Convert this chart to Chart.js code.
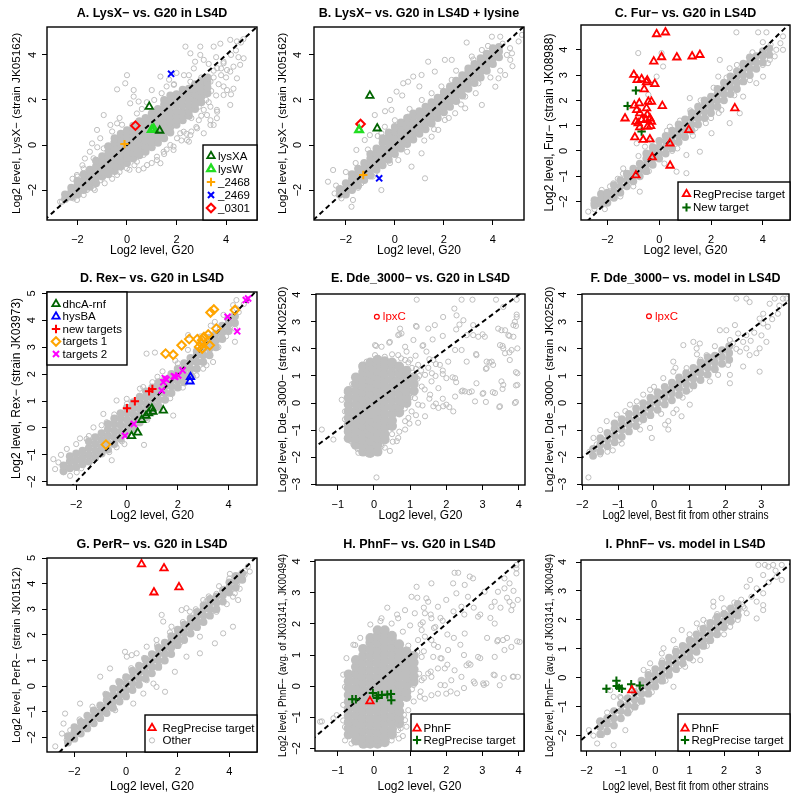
<!DOCTYPE html>
<html><head><meta charset="utf-8">
<script src="https://cdn.jsdelivr.net/npm/chart.js@4/dist/chart.umd.min.js"></script>
<style>
html,body{margin:0;padding:0;background:#fff;}
#wrap{position:relative;width:800px;height:800px;overflow:hidden;}
canvas{position:absolute;}
</style></head><body><div id="wrap"></div>
<script>
// ---------------- titles ----------------
const TITLES = ['A. LysX\u2212 vs. G20 in LS4D','B. LysX\u2212 vs. G20 in LS4D + lysine','C. Fur\u2212 vs. G20 in LS4D',
  'D. Rex\u2212 vs. G20 in LS4D','E. Dde_3000\u2212 vs. G20 in LS4D','F. Dde_3000\u2212 vs. model in LS4D',
  'G. PerR\u2212 vs. G20 in LS4D','H. PhnF\u2212 vs. G20 in LS4D','I. PhnF\u2212 vs. model in LS4D'];
const X_TITLES = ['Log2 level, G20','Log2 level, G20','Log2 level, G20','Log2 level, G20','Log2 level, G20',
  'Log2 level, Best fit from other strains','Log2 level, G20','Log2 level, G20','Log2 level, Best fit from other strains'];
const Y_TITLES = ['Log2 level, LysX\u2212 (strain JK05162)','Log2 level, LysX\u2212 (strain JK05162)','Log2 level, Fur\u2212 (strain JK08988)',
  'Log2 level, Rex\u2212 (strain JK03973)','Log2 level, Dde_3000\u2212 (strain JK02520)','Log2 level, Dde_3000\u2212 (strain JK02520)',
  'Log2 level, PerR\u2212 (strain JK01512)','Log2 level, PhnF\u2212 (avg. of JK03141, JK00494)','Log2 level, PhnF\u2212 (avg. of JK03141, JK00494)'];

// ---------------- axis ranges & ticks ----------------
const A_xRange=[-3.23,5.25], A_yRange=[-3.33,5.24], A_xTicks=[-2,0,2,4], A_yTicks=[-2,0,2,4];
const B_xRange=[-3.3,5.27],  B_yRange=[-3.33,5.24], B_xTicks=[-2,0,2,4], B_yTicks=[-2,0,2,4];
const C_xRange=[-3.02,5.05], C_yRange=[-2.73,4.98], C_xTicks=[-2,0,2,4], C_yTicks=[-2,-1,0,1,2,3,4];
const D_xRange=[-3.15,5.12], D_yRange=[-2.12,5.05], D_xTicks=[-2,0,2,4], D_yTicks=[-2,-1,0,1,2,3,4,5];
const E_xRange=[-1.6,4.17],  E_yRange=[-3.03,4.03], E_xTicks=[-1,0,1,2,3,4], E_yTicks=[-3,-2,-1,0,1,2,3,4];
const F_xRange=[-2.01,3.77], F_yRange=[-3.03,4.03], F_xTicks=[-2,-1,0,1,2,3], F_yTicks=[-3,-2,-1,0,1,2,3,4];
const G_xRange=[-3.06,5.07], G_yRange=[-2.57,5.0],  G_xTicks=[-2,0,2,4], G_yTicks=[-2,-1,0,1,2,3,4,5];
const H_xRange=[-1.63,4.15], H_yRange=[-2.08,4.05], H_xTicks=[-1,0,1,2,3,4], H_yTicks=[-2,-1,0,1,2,3,4];
const I_xRange=[-2.16,3.92], I_yRange=[-2.53,4.07], I_xTicks=[-2,-1,0,1,2,3], I_yTicks=[-2,-1,0,1,2,3,4];

// ---------------- gray genes: dense core (rows: x, then y values) ----------------
const A_core=[[-2.5,-2.4,-2.2],[-2.25,-2.3,-2.1,-1.9],[-2.0,-2.2,-2.0,-1.8,-1.6],[-1.75,-2.0,-1.8,-1.55,-1.3],[-1.5,-1.85,-1.6,-1.35,-1.1],
[-1.25,-1.7,-1.45,-1.2,-0.95,-0.7],[-1.0,-1.4,-1.2,-1.0,-0.75,-0.5],[-0.75,-1.3,-1.05,-0.8,-0.55,-0.3,-0.05],[-0.5,-1.15,-0.9,-0.65,-0.4,-0.15,0.1,0.3],
[-0.25,-0.95,-0.7,-0.45,-0.2,0.05,0.3,0.5],[0,-0.8,-0.55,-0.3,-0.05,0.2,0.45,0.65],[0.25,-0.6,-0.35,-0.1,0.15,0.4,0.65,0.85],[0.5,-0.45,-0.2,0.05,0.3,0.55,0.8,1.05],
[0.75,-0.3,-0.05,0.2,0.45,0.7,0.95,1.2],[1.0,-0.1,0.15,0.4,0.65,0.9,1.15,1.4],[1.25,0.1,0.35,0.6,0.85,1.1,1.35,1.6],[1.5,0.3,0.55,0.8,1.05,1.3,1.55,1.8,2.0],
[1.75,0.55,0.8,1.0,1.25,1.5,1.75,2.0,2.2],[2.0,0.9,1.1,1.3,1.5,1.75,2.0,2.25],[2.25,1.1,1.3,1.5,1.75,2.0,2.25,2.45],[2.5,1.3,1.5,1.75,2.0,2.25,2.5],
[2.75,1.6,1.8,2.0,2.25,2.5,2.7],[3.0,1.9,2.15,2.4,2.6,2.85],[3.25,2.3,2.55,2.8,3.0]];
const B_core=[[-2.25,-2.2,-1.95],[-2.0,-2.2,-1.95,-1.7],[-1.75,-2.0,-1.75,-1.5,-1.3],[-1.5,-1.8,-1.55,-1.3,-1.05],[-1.25,-1.55,-1.3,-1.05,-0.8],
[-1.0,-1.35,-1.1,-0.85,-0.6,-0.4],[-0.75,-1.1,-0.85,-0.6,-0.35,-0.15],[-0.5,-0.9,-0.65,-0.4,-0.15,0.1,0.3],[-0.25,-0.65,-0.4,-0.15,0.1,0.35,0.55],
[0,-0.4,-0.15,0.1,0.35,0.6,0.8],[0.25,-0.15,0.1,0.35,0.6,0.85,1.0],[0.5,0.05,0.3,0.55,0.8,1.05,1.2],[0.75,0.25,0.5,0.75,1.0,1.25,1.4],
[1.0,0.5,0.75,1.0,1.25,1.5],[1.25,0.7,0.95,1.2,1.45,1.7],[1.5,0.95,1.2,1.45,1.7,1.9],[1.75,1.2,1.45,1.7,1.95,2.1],[2.0,1.45,1.7,1.95,2.2,2.35],
[2.25,1.7,1.95,2.2,2.45,2.6],[2.5,1.95,2.2,2.45,2.7,2.85],[2.75,2.2,2.45,2.7,2.95,3.1],[3.0,2.5,2.75,3.0,3.25,3.4],[3.25,2.75,3.0,3.25,3.5,3.6],
[3.5,3.0,3.25,3.5,3.75,3.85],[3.75,3.3,3.55,3.8,4.05],[4.0,3.6,3.85,4.1,4.3],[4.25,3.9,4.15,4.35]];
const C_core=[[-2.5,-2.15,-1.95],[-2.25,-2.1,-1.9,-1.7],[-2.0,-2.05,-1.85,-1.65],[-1.75,-1.85,-1.6,-1.35],[-1.5,-1.65,-1.4,-1.15],[-1.25,-1.4,-1.15,-0.9],
[-1.0,-1.2,-0.95,-0.7],[-0.75,-1.0,-0.75,-0.5],[-0.5,-0.8,-0.55,-0.3,-0.1],[-0.25,-0.55,-0.3,-0.05,0.15],[0,-0.3,-0.1,0.15,0.4],[0.25,-0.1,0.15,0.4,0.6],
[0.5,0.1,0.35,0.6,0.8],[0.75,0.35,0.6,0.85,1.05],[1.0,0.55,0.8,1.05,1.25],[1.25,0.8,1.05,1.3,1.5],[1.5,1.05,1.3,1.55,1.75],[1.75,1.3,1.55,1.8,2.0],
[2.0,1.5,1.75,1.95,2.15],[2.25,1.75,2.0,2.25,2.45],[2.5,2.0,2.25,2.5,2.7],[2.75,2.25,2.5,2.75,2.95],[3.0,2.45,2.7,2.95,3.15],[3.25,2.75,3.0,3.25,3.45],
[3.5,3.0,3.25,3.5,3.7],[3.75,3.25,3.5,3.75],[4.0,3.5,3.75,3.95],[4.25,3.8,4.05]];
const D_core=[[-2.5,-1.6,-1.4],[-2.25,-1.5,-1.25,-1.05],[-2.0,-1.45,-1.2,-0.95],[-1.75,-1.35,-1.1,-0.85],[-1.5,-1.25,-1.0,-0.75,-0.5],[-1.25,-1.1,-0.85,-0.6,-0.35],
[-1.0,-0.95,-0.7,-0.45,-0.2],[-0.75,-0.8,-0.55,-0.3,-0.05,0.15],[-0.5,-0.6,-0.35,-0.1,0.15,0.35],[-0.25,-0.4,-0.15,0.1,0.35,0.55],[0,-0.2,0.05,0.3,0.55,0.75],
[0.25,0.0,0.25,0.5,0.75,0.95],[0.5,0.2,0.45,0.7,0.95,1.15],[0.75,0.4,0.65,0.9,1.15,1.35],[1.0,0.6,0.85,1.1,1.35,1.5],[1.25,0.8,1.05,1.3,1.55,1.7],
[1.5,1.05,1.3,1.55,1.8],[1.75,1.3,1.55,1.8,2.0],[2.0,1.5,1.75,2.0,2.2],[2.25,1.7,1.95,2.2,2.4],[2.5,1.95,2.2,2.45,2.6],[2.75,2.2,2.45,2.7,2.85],
[3.0,2.45,2.7,2.95,3.1],[3.25,2.7,2.95,3.2,3.35],[3.5,3.0,3.25,3.5],[3.75,3.3,3.55,3.8],[4.0,3.6,3.85,4.05],[4.25,3.9,4.15]];
const E_core=[[-0.7,-1.3,-1.05,-0.8,-0.55,-0.3,-0.05,0.2,0.45],[-0.5,-1.55,-1.3,-1.05,-0.8,-0.55,-0.3,-0.05,0.2,0.45,0.7,0.95],
[-0.3,-1.8,-1.6,-1.35,-1.1,-0.85,-0.6,-0.35,-0.1,0.15,0.4,0.65,0.9,1.15,1.35],[-0.1,-1.85,-1.65,-1.4,-1.15,-0.9,-0.65,-0.4,-0.15,0.1,0.35,0.6,0.85,1.1,1.35,1.5],
[0.1,-1.8,-1.55,-1.3,-1.05,-0.8,-0.55,-0.3,-0.05,0.2,0.45,0.7,0.95,1.2,1.45,1.6],[0.3,-1.35,-1.15,-0.9,-0.65,-0.4,-0.15,0.1,0.35,0.6,0.85,1.1,1.35,1.55],
[0.5,-0.85,-0.65,-0.4,-0.15,0.1,0.35,0.6,0.85,1.1,1.35,1.5],[0.7,-0.35,-0.15,0.1,0.35,0.6,0.85,1.1,1.35],[0.9,0.0,0.2,0.45,0.7,0.95,1.2],[1.1,0.45,0.7,0.95]];
const F_core=[[-1.7,-1.95,-1.7],[-1.5,-1.8,-1.55,-1.3],[-1.3,-1.6,-1.35,-1.1],[-1.1,-1.45,-1.2,-0.95,-0.75],[-0.9,-1.25,-1.0,-0.8,-0.6],[-0.7,-1.05,-0.8,-0.6,-0.4],
[-0.5,-0.85,-0.6,-0.4,-0.2],[-0.3,-0.6,-0.4,-0.2,0.0],[-0.1,-0.45,-0.2,0.0,0.2],[0.1,-0.25,0.0,0.2,0.4],[0.3,-0.05,0.2,0.4,0.6],[0.5,0.1,0.35,0.55,0.75],
[0.7,0.3,0.55,0.75,0.95],[0.9,0.45,0.7,0.9,1.1],[1.1,0.65,0.9,1.1,1.3],[1.3,0.85,1.1,1.3,1.5],[1.5,1.05,1.3,1.5,1.7],[1.7,1.25,1.5,1.75],[1.9,1.45,1.7,1.95],[2.1,1.6,1.85,2.1]];
const G_core=[[-2.25,-2.2,-1.95],[-2.0,-2.05,-1.8,-1.6],[-1.75,-1.85,-1.6,-1.4],[-1.5,-1.65,-1.4,-1.15],[-1.25,-1.45,-1.2,-0.95],[-1.0,-1.25,-1.0,-0.75],
[-0.75,-1.05,-0.8,-0.55,-0.35],[-0.5,-0.85,-0.6,-0.35,-0.1],[-0.25,-0.6,-0.35,-0.1,0.15],[0,-0.4,-0.15,0.1,0.35],[0.25,-0.15,0.1,0.35,0.6],[0.5,0.05,0.3,0.55,0.8],
[0.75,0.3,0.55,0.8,1.05],[1.0,0.5,0.75,1.0,1.25],[1.25,0.75,1.0,1.25,1.5],[1.5,1.0,1.25,1.5,1.7],[1.75,1.25,1.5,1.75,1.95],[2.0,1.6,1.8,2.0,2.2],
[2.25,1.8,2.05,2.25,2.4],[2.5,2.05,2.3,2.5,2.65],[2.75,2.3,2.5,2.75,2.9],[3.0,2.5,2.75,3.0,3.15],[3.25,2.75,3.0,3.25,3.4],[3.5,3.0,3.25,3.5],
[3.75,3.3,3.55,3.75],[4.0,3.65,3.85,4.05],[4.25,3.85,4.1,4.3],[4.5,4.15,4.4]];
const H_core=[[-0.7,-1.55,-1.35,-1.15,-0.94,-0.72,-0.5,-0.28,-0.06,0.16,0.38],[-0.5,-1.75,-1.55,-1.35,-1.14,-0.92,-0.7,-0.48,-0.26,-0.04,0.18,0.4,0.62,0.84],
[-0.3,-1.85,-1.66,-1.44,-1.22,-1.0,-0.78,-0.56,-0.34,-0.12,0.1,0.32,0.54,0.76,0.98,1.2],
[-0.1,-1.85,-1.68,-1.46,-1.24,-1.02,-0.8,-0.58,-0.36,-0.14,0.08,0.3,0.52,0.74,0.96,1.18,1.4,1.55],
[0.1,-1.85,-1.68,-1.46,-1.24,-1.02,-0.8,-0.58,-0.36,-0.14,0.08,0.3,0.52,0.74,0.96,1.18,1.4,1.62,1.8],
[0.3,-1.8,-1.63,-1.41,-1.19,-0.97,-0.75,-0.53,-0.31,-0.09,0.13,0.35,0.57,0.79,1.01,1.23,1.45,1.65,1.8],
[0.5,-1.55,-1.38,-1.16,-0.94,-0.72,-0.5,-0.28,-0.06,0.16,0.38,0.6,0.82,1.04,1.26,1.48,1.62],
[0.7,-1.2,-1.03,-0.81,-0.59,-0.37,-0.15,0.07,0.29,0.51,0.73,0.95,1.17,1.35],[0.9,-0.35,-0.18,0.04,0.26,0.48,0.7,0.92,1.12],[1.1,0.15,0.32,0.54,0.76,0.98]];
const I_core=[[-1.6,-1.95,-1.7,-1.5],[-1.4,-1.85,-1.6,-1.4],[-1.2,-1.65,-1.4,-1.15],[-1.0,-1.4,-1.15,-0.9],[-0.8,-1.2,-0.95,-0.7],[-0.6,-1.0,-0.75,-0.5],
[-0.4,-0.8,-0.55,-0.3,-0.1],[-0.2,-0.55,-0.3,-0.1,0.1],[0.0,-0.3,-0.1,0.1,0.3],[0.2,-0.1,0.1,0.3,0.5],[0.4,0.1,0.3,0.5,0.7],[0.6,0.3,0.5,0.7,0.9],
[0.8,0.5,0.7,0.9,1.1],[1.0,0.7,0.9,1.1,1.3],[1.2,0.9,1.1,1.3,1.5],[1.4,1.1,1.3,1.5,1.7],[1.6,1.3,1.5,1.7,1.9],[1.8,1.5,1.7,1.9,2.1],[2.0,1.75,1.95,2.2],
[2.2,1.95,2.15,2.4],[2.4,2.15,2.35,2.55]];

// ---------------- gray genes: scattered points [x, y] ----------------
const A_rings=[[2.36,4.37],[2.96,4.37],[2.56,4.07],[2.96,4.0],[3.1,3.78],[3.5,4.37],[3.77,4.5],[4.17,4.67],[4.44,4.6],[4.7,4.7],[4.6,4.55],[1.35,3.04],[1.0,2.44],[1.6,2.6],[0,3.1],[0.27,2.44],[-0.4,2.47],[-0.07,2.74],[0.27,2.15],[0.47,1.93],[0.13,1.85],[-0.67,0.89],[-0.4,0.96],[-0.94,1.33],[3.63,1.56],[4.04,2.44],[4.3,2.5],[4.17,3.26],[4.3,3.48],[4.04,3.33],[3.9,3.63],[4.2,2.25],[3.5,0.89],[3.63,1.19],[3.37,1.1],[3.1,0.52],[2.42,0.22],[2.15,0.52],[1.88,-0.07],[1.35,-0.81],[1.21,-0.67],[0.81,-0.89],[0.67,-1.04],[0.47,-1.11],[1.21,-0.52],[2.5,0.15],[1.88,-0.22],[3.1,1.56],[3.23,1.33],[3.37,1.7],[-2.62,-2.52],[-2.42,-2.3],[-2.02,-2.44],[-1.62,-2.0],[-1.08,-1.56],[-1.48,-1.41],[-1.21,0.67],[-1.08,0.3],[-0.81,-0.07],[-1.41,0.07],[3.5,3.0],[3.7,2.7],[3.8,3.1],[4.0,3.0],[3.6,3.9],[3.3,3.6],[4.2,4.0],[4.4,4.2],[4.5,3.9],[2.7,3.4],[2.3,3.1],[1.9,2.7],[1.7,2.9],[2.0,3.2],[0.8,1.9],[0.6,1.6],[-0.3,1.2],[-0.6,0.6],[-1.5,-0.3],[-1.8,-0.9],[-2.2,-1.5],[-1.3,-2.0],[-0.6,-1.5],[0.1,-1.1],[1.0,-0.8],[1.5,-0.4],[2.2,0.2],[2.8,0.8],[3.3,1.9],[3.0,1.3],[2.6,0.6],[3.9,2.6],[3.6,2.2],[3.2,2.0],[2.9,1.1],[2.4,0.5],[1.6,-0.2],[0.3,-0.9],[-0.3,-1.2],[-0.9,-1.7],[-2.0,-1.4],[-1.7,-0.6],[-1.2,-0.1],[-0.2,0.9],[0.4,1.4],[1.1,2.0],[1.4,2.3],[2.5,3.1],
[2.75,3.7],[3.37,2.81],[3.64,3.41],[3.9,3.7],[4.44,2.96],[4.57,3.56],[4.71,3.85],[3.9,2.22],[4.17,1.78],[3.64,1.48],[3.37,0.89],[2.83,0.74],[2.56,0.44],[2.29,0.59],[2.02,0.3],[1.75,0.0],[1.48,-0.3],[0.67,-0.44],[0.4,-0.74],[0.0,-1.04],[-0.4,-1.33],[-1.35,-1.93],[-1.75,-2.22],[-2.16,-2.37],[-2.7,-2.52],[1.89,2.67],[2.29,2.37],[2.56,2.81],[1.75,1.93],[1.48,1.63],[1.08,1.33],[0.67,1.04],[0.27,0.74],[-0.13,0.44],[-0.54,0.15],[-0.94,-0.15],[-1.35,-0.59],[-1.75,-1.04],[-2.02,-1.33],[3.0,3.0],[3.2,2.6],[2.8,2.3],[3.4,2.4],[2.9,1.7],[2.6,1.2],[3.5,3.3],[3.8,3.4]];
const B_rings=[[1.36,3.7],[2.93,4.55],[2.04,3.78],[2.32,3.78],[0.54,2.81],[0.34,2.74],[0.75,3.04],[1.09,3.11],[1.63,3.26],[0.07,2.37],[-0.2,2.0],[-0.82,1.33],[-1.02,0.44],[-1.23,0.22],[-0.55,0.52],[-1.57,-0.22],[-0.82,-0.37],[2.46,1.41],[2.87,1.63],[3.55,1.78],[4.1,2.59],[4.23,2.96],[4.5,3.11],[4.71,3.78],[4.78,4.07],[5.19,4.89],[5.05,4.6],[4.3,4.81],[3.96,4.81],[4.57,4.0],[3.55,4.22],[3.14,3.93],[1.77,0.67],[1.5,0.37],[1.09,-0.37],[1.23,-1.48],[0.68,-0.96],[0.14,-0.67],[-0.55,-2.0],[-1.37,-1.7],[-1.71,-2.44],[-2.18,-2.37],[-2.73,-1.63],[-2.46,-2.15],[-1.77,-2.74],[-2.52,-1.11],[2.04,1.11],[2.87,2.15],[3.41,2.74],[3.68,3.33],[2.32,2.89],[0.54,1.26],[-0.14,1.56],[-0.41,0.81],[-1.91,-1.85],[-0.82,-1.26],[1.9,2.6],[2.5,3.3],[3.2,3.8],[3.8,4.4],[4.4,4.5],[4.7,4.3],[4.8,3.5],[4.3,3.3],[3.9,3.0],[3.3,2.3],[2.7,1.8],[2.2,1.2],[1.6,0.7],[1.2,0.2],[0.5,-0.3],[-0.2,-0.8],[-0.9,-1.4],[-1.5,-1.9],[-2.4,-1.8],[-2.0,-1.2],[-1.6,-0.8],[-1.1,-0.2],[-0.7,0.4],[0.0,1.1],[0.6,1.6],[1.1,2.0],[1.5,2.3],[1.0,2.6],[0.3,2.2],[-0.4,1.5]];
const C_rings=[[2.98,4.69],[3.82,4.69],[4.14,4.69],[4.78,4.53],[4.68,4.26],[4.78,4.0],[4.27,3.6],[4.2,3.47],[3.5,3.47],[3.24,3.21],[2.34,3.6],[2.28,2.94],[2.72,3.27],[1.18,2.09],[-0.81,3.87],[0.09,3.87],[0.15,3.34],[-0.17,2.68],[-0.1,2.94],[-0.42,2.22],[-0.87,0.3],[-0.55,0.17],[1.05,-0.16],[1.57,-0.03],[2.02,0.7],[2.72,1.1],[3.11,1.49],[2.4,1.62],[1.05,-0.88],[0.67,-0.82],[-0.75,-1.61],[-1.77,-1.28],[-2.22,-1.54],[-2.35,-1.94],[-2.74,-2.4],[-1.39,-0.69],[-1.13,-0.88],[-2.54,-2.07],[-2.03,-1.81],[3.24,2.15],[3.75,2.68],[4.01,2.94],[1.7,1.62],[0.8,0.7],[0.41,0.96],[1.95,2.02],[4.52,4.0],[4.46,3.74],[4.3,4.2],[4.0,4.3],[3.6,3.9],[3.0,3.4],[2.6,2.9],[2.1,2.5],[1.6,2.0],[1.2,1.6],[0.8,1.2],[0.3,0.8],[-0.3,0.4],[-0.8,-0.2],[-1.4,-0.9],[-1.9,-1.4],[-2.5,-2.3],[-2.1,-2.3],[-1.5,-1.8],[-1.0,-1.4],[-0.4,-0.8],[0.2,-0.5],[0.7,0.1],[1.3,0.6],[1.8,1.1],[2.3,1.5],[2.9,2.2],[3.5,2.8],[4.0,3.4],[3.4,3.1],[2.0,1.3],[1.4,0.9],[0.5,0.0],[-0.5,-0.6],[-1.6,-1.1]];
const D_rings=[[2.41,3.45],[0.77,2.76],[1.1,2.8],[-0.41,1.02],[-1.85,-0.39],[0.67,-0.63],[1.82,0.46],[3.46,3.94],[4.31,4.75],[4.25,3.2],[4.25,3.69],[3.39,3.26],[3.66,3.69],[4.18,4.19],[4.31,4.44],[4.18,4.56],[3.39,2.45],[3.13,2.33],[2.74,1.95],[2.35,1.95],[0.51,1.46],[0.64,1.52],[-0.01,1.08],[0.12,0.71],[-2.37,-0.78],[-2.83,-1.53],[-2.7,-1.28],[-2.5,-1.65],[-1.98,-1.65],[-2.9,-1.16],[-2.24,-1.78],[-0.8,0.21],[-0.93,0.52],[-1.32,0.02],[-1.59,-0.41],[-1.06,-0.91],[-0.41,-0.72],[1.04,1.08],[4.6,4.6],[4.4,4.3],[3.9,3.4],[3.6,3.0],[3.0,2.2],[2.6,1.9],[2.2,1.5],[1.7,1.1],[1.3,0.7],[0.8,0.3],[0.3,-0.1],[-0.2,-0.5],[-0.7,-0.9],[-1.3,-1.2],[-1.8,-1.5],[-2.2,-1.3],[-2.6,-1.0],[-2.0,-0.6],[-1.5,-0.3],[-1.0,0.1],[-0.5,0.5],[0.0,0.9],[0.5,1.2],[1.0,1.7],[1.4,2.1],[1.9,2.5],[2.4,2.9],[2.9,3.4],[3.3,3.8],[3.8,4.2],[2.0,2.4],[1.2,1.9],[-0.6,-1.2],[-0.1,-0.6]];
const E_rings=[[1.18,3.82],[2.42,3.82],[2.72,3.82],[3.37,3.82],[3.94,3.82],[3.94,3.27],[3.94,3.18],[3.57,3.55],[2.22,3.49],[2.28,3.24],[1.91,3.18],[2.47,3.06],[2.74,2.88],[1.68,2.88],[1.5,2.75],[1.18,2.82],[0.72,2.75],[0.76,2.57],[0.67,2.51],[0.03,2.14],[0.44,2.26],[0.21,2.08],[0.86,2.08],[1.09,2.33],[2.74,2.51],[2.88,2.45],[3.43,2.75],[3.52,2.69],[3.62,2.69],[3.71,2.51],[3.85,2.45],[3.48,2.14],[3.57,2.02],[3.62,1.84],[3.75,1.59],[3.8,1.96],[3.96,2.02],[3.85,2.88],[3.89,3.0],[3.06,2.45],[2.56,2.51],[2.24,1.96],[2.42,1.96],[2.56,1.53],[2.83,1.77],[3.11,1.53],[3.25,1.53],[3.29,1.41],[3.11,1.29],[2.83,0.73],[3.52,0.8],[3.57,0.67],[3.96,0.67],[3.96,1.1],[3.02,0.37],[3.34,0.37],[2.79,0.06],[3.48,-0.12],[3.89,0.0],[2.0,0.92],[2.24,0.92],[2.42,0.43],[2.51,0.43],[2.7,0.43],[2.24,0.24],[2.0,-0.06],[1.78,-0.18],[1.64,-0.12],[1.41,-0.49],[1.22,-0.73],[0.86,-0.98],[0.67,-1.29],[0.63,-1.41],[0.21,-1.59],[0.44,-1.77],[0.07,-2.75],[2.19,-0.31],[1.91,-0.12],[1.82,1.41],[1.64,1.59],[2.05,1.53],[1.45,1.9],[1.36,2.14],[1.22,1.41],[1.41,1.04],[1.59,0.8],[1.32,0.61],[1.78,0.55],[1.55,0.31],[1.13,0.18],[1.22,-0.06],[1.04,-0.31],[0.95,-0.55],[0.86,-0.67],[-1.44,-0.98],[-1.12,-1.35],[-0.89,0.12],[-0.8,-0.31],[-0.75,-0.92],[-0.66,-1.16],[-0.57,-1.53],[-0.52,0.92],[-0.34,1.41],[-0.2,1.53],[0.03,1.77],[0.3,1.71],[0.67,1.77],[0.86,1.59],[-0.34,-1.77],[-0.16,-1.9],[-0.43,-1.84],[1.3,1.2],[1.5,1.3],[1.7,1.0],[1.9,1.2],[1.2,0.9],[1.0,1.6],[1.15,1.75],[0.9,1.9],[1.4,0.5],[1.6,1.1],
[1.16,1.26],[1.53,1.62],[1.71,1.44],[1.9,1.07],[2.17,0.95],[2.27,0.77],[2.45,0.46],[2.63,0.4],[3.0,0.34],[3.28,0.4],[3.55,0.52],[3.92,0.65],[1.9,0.16],[2.08,-0.15],[1.71,-0.02],[1.53,0.16],[1.34,-0.09],[1.16,-0.45],[0.98,-0.76],[0.7,-1.06],[0.52,-1.43],[1.34,2.11],[1.62,2.35],[1.9,2.48],[2.27,2.72],[2.36,2.9],[3.0,2.54],[3.19,1.5],[3.09,1.26],[3.55,2.11],[3.74,2.48],[3.92,2.85],[3.92,1.14],[3.74,1.87],[3.92,0.04],[3.46,-0.15],[3.09,0.04],[2.82,1.81],[0.06,2.11],[0.42,2.23],[0.7,2.54],[1.16,2.85],[1.05,1.3],[0.95,1.5],[1.25,1.0],[1.0,0.2],[0.85,-0.2],[0.75,1.65],[0.5,1.8],[-0.6,0.7],[-0.75,0.4],[-0.8,-0.6],[-0.65,-1.4],[-0.45,-1.7],[0.3,-1.65],[0.5,-1.15]];
const F_rings=[[2.3,3.86],[2.58,3.86],[2.67,3.73],[3.37,3.86],[3.6,3.86],[3.7,3.86],[3.23,3.67],[3.05,3.3],[2.95,3.12],[3.05,2.94],[3.18,2.82],[3.46,3.3],[3.14,2.26],[2.95,2.02],[2.86,1.84],[2.67,1.77],[2.58,2.02],[2.49,2.26],[2.26,2.88],[2.35,2.57],[2.58,2.51],[2.02,2.69],[1.84,2.69],[2.12,2.33],[2.95,1.16],[2.49,1.35],[2.07,1.41],[2.12,1.04],[2.12,0.73],[1.79,1.04],[1.56,0.8],[1.37,1.04],[1.56,1.41],[1.47,1.77],[1.1,2.26],[1.28,2.2],[1.19,2.02],[0.82,2.14],[0.54,1.53],[0.63,-0.24],[1.0,-0.06],[0.54,-0.37],[0.31,-0.8],[0.4,-0.67],[-0.06,-1.29],[-0.11,-0.92],[0.4,-0.98],[-0.39,-0.98],[-0.67,-0.8],[-0.97,-1.38],[-1.15,-1.75],[-1.5,-1.9],[-1.83,-2.75],[0.77,-0.49],[-1.32,-0.67],[-1.04,-0.43],[-0.67,-0.06],[-0.48,0.06],[-0.3,0.31],[-0.11,0.49],[0.26,0.92],[0.54,1.16],[0.91,1.29],[-1.69,-1.29],[-1.6,-1.53],[2.3,2.0],[2.0,1.8],[1.8,1.5],[2.4,1.9],[2.7,2.3],[2.8,2.6],[3.0,2.5],[3.3,3.1],[3.5,3.6],[2.2,2.2],[1.7,2.1],[1.3,1.6],[1.0,0.5],[0.8,0.2],[0.2,-0.4],[-0.4,-0.7],[-0.9,-1.5],[-1.3,-1.8],[-1.8,-1.8],[-1.5,-1.0],[-0.8,-0.3],[0.0,0.6],[0.6,1.3],[1.2,1.8]];
const G_rings=[[4.02,4.38],[4.59,4.34],[4.72,4.67],[4.79,4.47],[4.21,3.62],[4.34,3.36],[4.14,3.49],[2.99,3.36],[3.11,3.3],[2.15,2.97],[2.34,3.04],[2.47,2.91],[2.73,2.71],[1.38,2.78],[1.44,2.52],[1.76,2.32],[1.18,1.8],[0.8,1.54],[0.41,1.28],[-0.04,1.34],[0.03,1.15],[0.22,1.21],[-0.62,0.69],[-1.0,0.37],[-1.78,-0.68],[-2.36,-1.07],[-2.42,-1.46],[-2.74,-2.35],[-2.48,-1.85],[-2.16,-1.72],[-0.88,-0.94],[-0.42,-0.94],[0.28,-0.68],[0.67,-0.29],[1.18,-0.03],[1.51,-0.22],[1.89,0.56],[2.34,1.15],[2.86,1.28],[3.44,1.67],[3.76,2.06],[4.14,2.32],[1.63,1.41],[0.8,0.23],[1.06,0.1],[2.86,1.93],[4.5,4.2],[4.3,4.0],[3.8,3.8],[3.5,3.6],[3.3,2.9],[2.9,2.5],[2.5,2.1],[2.1,1.7],[1.7,1.3],[1.3,0.9],[0.9,0.5],[0.5,0.1],[0.0,-0.3],[-0.5,-0.7],[-1.0,-1.1],[-1.5,-1.5],[-2.0,-1.9],[-2.3,-2.1],[-1.8,-1.3],[-1.3,-0.8],[-0.8,-0.3],[-0.3,0.2],[0.2,0.7],[0.7,1.1],[1.2,1.6],[1.7,2.1],[2.2,2.5],[2.7,3.0],[3.2,3.5],[3.6,3.9],[4.0,4.2],[4.6,4.5],[3.9,3.2],[3.5,2.9],[4.4,3.8]];
const H_rings=[[2.23,3.64],[2.33,3.64],[2.51,3.25],[2.65,3.52],[2.74,3.46],[1.18,3.19],[1.59,3.3],[2.19,3.3],[2.28,2.98],[2.6,2.87],[3.06,3.03],[3.43,3.03],[3.61,3.46],[3.75,3.3],[3.94,3.62],[3.94,3.89],[3.94,3.78],[3.61,3.14],[3.75,2.71],[3.84,2.6],[3.98,2.77],[3.8,2.44],[3.34,2.71],[3.25,2.55],[2.88,2.23],[2.42,2.55],[2.0,2.77],[1.77,2.55],[1.5,2.71],[1.41,2.34],[1.59,2.18],[1.13,2.34],[0.86,2.44],[0.67,2.18],[0.49,2.01],[1.04,2.87],[1.45,2.82],[0.21,2.18],[-0.06,1.59],[-0.52,1.32],[-0.48,0.73],[-0.75,0.41],[2.51,1.69],[3.34,2.01],[3.43,1.48],[3.34,0.94],[3.61,1.16],[3.57,1.48],[3.8,1.26],[4.03,1.42],[3.98,0.3],[3.84,0.3],[3.48,0.03],[3.34,0.35],[3.11,0.09],[3.02,0.09],[2.79,0.09],[2.88,0.94],[2.62,0.73],[2.56,0.67],[2.42,0.3],[2.23,0.51],[2.14,0.19],[1.96,0.03],[2.0,-0.24],[1.77,-0.24],[1.59,-0.29],[1.41,-0.4],[1.27,-0.34],[1.96,0.57],[1.77,0.57],[1.5,0.41],[1.59,0.3],[1.32,0.19],[1.64,0.94],[1.87,0.89],[1.32,0.94],[2.05,1.16],[1.77,1.26],[1.59,1.48],[1.41,1.59],[1.32,1.8],[1.22,1.48],[1.13,0.09],[0.95,-0.34],[-1.44,-1.13],[-1.03,-0.93],[-0.8,-1.31],[-0.8,-1.74],[-0.62,-1.84],[-0.25,-1.9],[0.21,-1.84],[0.49,-1.74],[0.67,-1.41],[0.86,-1.09],[0.95,-0.77],[-0.8,-0.02],[1.2,1.1],[1.0,1.95],[0.8,1.75],[1.35,2.05],[1.7,1.9],[1.9,2.1],[2.2,2.4],[2.5,2.3],[1.1,0.6],[1.25,0.4],[1.05,-0.1],
[1.2,2.84],[1.38,2.52],[1.57,2.3],[1.29,1.98],[1.66,1.87],[1.84,2.19],[2.03,1.66],[2.21,1.55],[2.39,1.33],[1.66,1.33],[1.38,1.12],[1.84,0.9],[2.03,0.69],[1.57,0.47],[1.38,0.26],[1.84,0.04],[2.12,-0.17],[2.3,-0.23],[1.1,0.04],[1.29,-0.17],[1.1,-0.49],[0.83,-0.92],[0.74,-1.35],[0.69,-1.68],[0.64,2.3],[0.37,2.52],[0.18,2.09],[-0.1,1.98],[-0.38,1.55],[-0.57,1.33],[-0.76,0.9],[-0.85,0.37],[-1.49,-1.14],[-1.12,-1.03],[2.76,2.52],[2.94,2.3],[3.22,2.19],[3.5,2.52],[3.68,2.84],[3.86,3.06],[3.13,1.55],[3.41,1.44],[3.68,1.55],[3.96,1.44],[2.94,0.9],[3.31,0.37],[3.59,0.26],[3.86,0.31],[2.76,0.15],[3.04,0.04],[2.49,-0.06],[2.67,0.69],[2.49,1.0],[0.95,1.3],[1.0,0.9],[0.9,-1.3],[0.8,-1.6],[-0.85,-0.6],[-0.85,-1.1]];
const I_rings=[[3.0,3.9],[3.19,3.9],[3.29,3.84],[3.43,3.9],[3.68,3.9],[3.53,3.49],[3.68,3.38],[3.14,3.55],[2.76,3.38],[2.66,3.15],[2.95,3.09],[3.14,2.92],[2.95,2.63],[3.14,2.51],[3.14,2.34],[2.95,2.05],[2.66,2.23],[2.42,2.17],[2.56,2.46],[2.18,2.23],[2.18,1.76],[1.93,2.75],[1.69,2.63],[1.69,2.46],[2.27,2.0],[1.89,1.76],[1.6,1.48],[1.31,0.61],[1.02,0.73],[1.26,1.19],[0.97,1.07],[0.63,0.27],[0.87,0.38],[0.53,-0.31],[-0.34,-0.43],[-0.53,-0.89],[-0.73,-1.12],[-0.87,-1.81],[-1.21,-2.33],[-1.55,-1.98],[-1.64,-1.52],[-1.93,-1.81],[-1.69,-2.27],[0.24,1.02],[0.19,0.84],[0.53,1.3],[0.77,1.65],[-0.15,0.5],[-0.34,0.27],[-1.31,-0.43],[-1.21,-0.66],[-1.02,-0.66],[1.74,2.05],[1.21,1.88],[1.4,2.0],[2.5,2.7],[2.8,2.8],[3.3,3.3],[3.5,3.7],[2.6,2.4],[2.3,2.6],[2.0,2.4],[1.8,2.2],[1.5,1.9],[2.0,1.5],[2.4,2.0],[1.5,1.1],[1.1,0.6],[0.7,0.4],[0.3,-0.1],[-0.1,-0.5],[-0.5,-0.6],[-0.9,-1.1],[-1.3,-1.6],[-1.8,-2.0],[-1.4,-1.2],[-1.0,-0.7],[-0.6,-0.3],[-0.2,0.2],[0.2,0.6],[0.6,1.0],[1.0,1.5],[1.3,1.7]];

// ---------------- highlighted genes ----------------
const A_lysXA=[[0.9,1.7],[1.32,0.64]], A_lysW=[[1.0,0.68],[1.08,0.72]], A_2468=[[-0.1,0.04]], A_2469=[[1.78,3.16]], A_0301=[[0.34,0.86]];
const B_lysXA=[[-1.02,2.19],[-0.72,0.74]], B_lysW=[[-1.46,0.67]], B_2468=[[-1.29,-1.33]], B_2469=[[-0.64,-1.48]], B_0301=[[-1.4,0.93]];
const C_reg=[[-0.1,4.62],[0.24,4.69],[-0.21,3.54],[0.09,3.71],[0.68,3.7],[1.27,3.74],[1.57,3.8],[-0.98,3.01],[-0.85,2.81],[-0.68,2.84],[-0.46,2.79],[-0.49,2.72],[-0.17,2.65],[-0.58,2.44],[-0.96,1.8],[-0.77,1.89],[-0.87,1.62],[-0.75,1.49],[-1.32,1.29],[-0.9,1.16],[-0.81,1.1],[-0.42,1.95],[-0.3,1.95],[-0.49,1.69],[-0.46,1.43],[-0.36,1.29],[-0.51,1.23],[-0.3,1.16],[-0.45,0.96],[-0.33,0.99],[0.12,1.78],[-0.94,0.54],[-0.62,0.44],[-0.36,0.46],[0.41,0.3],[1.14,0.83],[-0.27,-0.25],[0.42,-0.58],[-0.9,-0.96],[2.92,1.69],[-0.68,1.23],[-0.75,0.94]];
const C_new=[[-0.9,2.39],[-1.22,1.78],[-0.68,0.77]];
const D_dhcA=[[0.18,-0.3],[0.42,-0.17],[0.58,0.3],[0.75,0.45],[0.85,0.55],[0.98,0.72],[1.02,0.6],[1.43,0.65]];
const D_hysBA=[[2.5,1.89],[2.48,1.73]];
const D_new=[[0.0,0.73],[0.31,0.99],[0.87,1.36],[1.0,1.45]];
const D_t1=[[-0.83,-0.62],[1.52,2.76],[1.82,2.72],[2.15,3.07],[2.45,3.3],[2.77,3.3],[2.84,3.01],[2.96,3.26],[3.03,3.38],[3.2,3.47],[3.26,3.07],[2.96,2.95],[3.29,4.29],[3.42,4.4],[3.52,3.69],[4.25,4.38],[2.93,3.13]];
const D_t2=[[-0.08,-0.29],[0.27,0.15],[1.43,1.7],[1.49,1.85],[1.85,1.92],[2.02,1.95],[2.19,2.14],[1.37,1.39],[3.96,4.13],[4.34,3.59],[4.68,4.75],[4.77,4.81],[1.55,1.8],[1.9,1.9]];
const E_lpxC=[[0.08,3.19]], F_lpxC=[[-0.14,3.21]];
const G_reg=[[0.6,4.76],[1.47,4.6],[1.08,3.66],[2.05,3.86]];
const H_phnF=[[-0.11,-0.48]], H_reg=[[-0.6,-0.42],[-0.5,-0.42],[-0.03,-0.22],[0.08,-0.38],[0.12,-0.3],[0.22,-0.28],[0.37,-0.27],[0.47,-0.25],[0.48,-0.45]];
const I_phnF=[[-0.68,-0.43]], I_reg=[[-1.42,-0.38],[-1.13,-0.1],[-1.12,-0.28],[-1.05,-0.35],[-0.97,-0.38],[-0.7,-0.22],[-0.45,-0.27]];

// ---------------- styling ----------------
const FONT="'Liberation Sans', Arial, Helvetica, sans-serif";
const GRAY='#bebebe', DKGREEN='#006400', GREEN='#22dd22', ORANGE='#ffa500', BLUE='#0000ff', RED='#ff0000', MAGENTA='#ff00ff';
const STYLES={
  tri:{pointStyle:'triangle',radius:4.3,borderWidth:1.8},
  plus:{pointStyle:'cross',radius:4.2,borderWidth:2},
  x:{pointStyle:'crossRot',radius:4.3,borderWidth:2},
  diamond:{pointStyle:'rectRot',radius:4.3,borderWidth:2},
  circ:{pointStyle:'circle',radius:2.4,borderWidth:1.2}
};
Chart.defaults.font.family=FONT;

const X0=[0,266,533], Y0=[0,266,532], CW=267, CH=268;
const ROW_TITLE_PAD=[6.5,5.5,5.5], ROW_XTITLE_C=[251,250,255];

const PANELS=[
 {col:0,row:0,box:{L:47,R:257,T:27,B:220},yLabX:33,xs:12,ys:11.7,xRange:A_xRange,yRange:A_yRange,xTicks:A_xTicks,yTicks:A_yTicks,core:A_core,coreR:4,rings:A_rings,
  series:[{label:'lysXA',data:A_lysXA,style:'tri',color:DKGREEN},{label:'lysW',data:A_lysW,style:'tri',color:GREEN,bw:2.4},{label:'_2468',data:A_2468,style:'plus',color:ORANGE},
          {label:'_2469',data:A_2469,style:'x',color:BLUE},{label:'_0301',data:A_0301,style:'diamond',color:RED}],
  legend:{anchor:'br',w:54,h:75,first:11,step:13,mx:8,tx:15,items:['lysXA','lysW','_2468','_2469','_0301']}},
 {col:1,row:0,box:{L:48,R:258,T:27,B:220},yLabX:32,xs:12,ys:11.7,xRange:B_xRange,yRange:B_yRange,xTicks:B_xTicks,yTicks:B_yTicks,core:B_core,coreR:4,rings:B_rings,
  series:[{label:'lysXA',data:B_lysXA,style:'tri',color:DKGREEN},{label:'lysW',data:B_lysW,style:'tri',color:GREEN,bw:2.4},{label:'_2468',data:B_2468,style:'plus',color:ORANGE},
          {label:'_2469',data:B_2469,style:'x',color:BLUE},{label:'_0301',data:B_0301,style:'diamond',color:RED}]},
 {col:2,row:0,box:{L:48,R:257,T:25,B:220},yLabX:30.5,xs:12,ys:12,xRange:C_xRange,yRange:C_yRange,xTicks:C_xTicks,yTicks:C_yTicks,core:C_core,coreR:3.9,rings:C_rings,
  series:[{label:'RegPrecise target',data:C_reg,style:'tri',color:RED},{label:'New target',data:C_new,style:'plus',color:DKGREEN}],
  legend:{anchor:'br',w:112,h:38,first:12,step:13.4,mx:8.5,tx:15,items:['RegPrecise target','New target']}},
 {col:0,row:1,box:{L:47,R:257,T:26,B:219},yLabX:32,xs:12,ys:12,xRange:D_xRange,yRange:D_yRange,xTicks:D_xTicks,yTicks:D_yTicks,core:D_core,coreR:4,rings:D_rings,
  series:[{label:'dhcA-rnf',data:D_dhcA,style:'tri',color:DKGREEN},{label:'hysBA',data:D_hysBA,style:'tri',color:BLUE},{label:'new targets',data:D_new,style:'plus',color:RED},
          {label:'targets 1',data:D_t1,style:'diamond',color:ORANGE},{label:'targets 2',data:D_t2,style:'x',color:MAGENTA}],
  legend:{anchor:'tl',w:80,h:73,first:12,step:12.5,mx:9,tx:15.5,items:['dhcA-rnf','hysBA','new targets','targets 1','targets 2']}},
 {col:1,row:1,box:{L:50,R:259,T:28,B:219},yLabX:31,xs:12,ys:11.5,yFitW:206,xRange:E_xRange,yRange:E_yRange,xTicks:E_xTicks,yTicks:E_yTicks,core:E_core,coreR:4.9,rings:E_rings,
  series:[{label:'lpxC',data:E_lpxC,style:'circ',color:RED,text:true}]},
 {col:2,row:1,box:{L:49,R:256,T:28,B:219},yLabX:29.5,xs:12,xFitW:166,ys:11.5,yFitW:206,xRange:F_xRange,yRange:F_yRange,xTicks:F_xTicks,yTicks:F_yTicks,core:F_core,coreR:3.9,rings:F_rings,
  series:[{label:'lpxC',data:F_lpxC,style:'circ',color:RED,text:true}]},
 {col:0,row:2,box:{L:47,R:257,T:26,B:220},yLabX:32,xs:12,ys:11.3,xRange:G_xRange,yRange:G_yRange,xTicks:G_xTicks,yTicks:G_yTicks,core:G_core,coreR:3.9,rings:G_rings,
  series:[{label:'RegPrecise target',data:G_reg,style:'tri',color:RED}],
  legend:{anchor:'br',w:112,h:37,first:13,step:12.4,mx:7,tx:17.5,items:['RegPrecise target','Other']}},
 {col:1,row:2,box:{L:49,R:258,T:28,B:219},yLabX:31,xs:12,ys:11.7,yFitW:203,xRange:H_xRange,yRange:H_yRange,xTicks:H_xTicks,yTicks:H_yTicks,core:H_core,coreR:4.9,rings:H_rings,
  series:[{label:'PhnF',data:H_phnF,style:'tri',color:RED},{label:'RegPrecise target',data:H_reg,style:'plus',color:DKGREEN}],
  legend:{anchor:'br',w:113,h:37,first:14.5,step:11.5,mx:6,tx:12.5,items:['PhnF','RegPrecise target']}},
 {col:2,row:2,box:{L:48,R:257,T:28,B:219},yLabX:29.5,xs:12,xFitW:166,ys:11.7,yFitW:203,xRange:I_xRange,yRange:I_yRange,xTicks:I_xTicks,yTicks:I_yTicks,core:I_core,coreR:3.9,rings:I_rings,
  series:[{label:'PhnF',data:I_phnF,style:'tri',color:RED},{label:'RegPrecise target',data:I_reg,style:'plus',color:DKGREEN}],
  legend:{anchor:'br',w:112,h:37,first:14.5,step:11.5,mx:7,tx:13.5,items:['PhnF','RegPrecise target']}}
];

// ---------------- helpers & plugins ----------------
function fmt(v){return (v<0?'\u2212':'')+Math.abs(v);}
function toPts(pairs){return pairs.map(p=>({x:p[0],y:p[1]}));}
function rowsToPts(rows){const out=[];rows.forEach(r=>{for(let i=1;i<r.length;i++)out.push({x:r[0],y:r[i]});});return out;}

const framePlugin={id:'frame',afterDatasetsDraw(chart){const a=chart.chartArea,c=chart.ctx;c.save();c.strokeStyle='#000';c.lineWidth=1.4;
  c.strokeRect(a.left,a.top,a.right-a.left,a.bottom-a.top);c.restore();}};
const textPlugin={id:'ptext',afterDatasetsDraw(chart){const c=chart.ctx;chart.data.datasets.forEach((ds,i)=>{if(!ds.textLabel)return;
  chart.getDatasetMeta(i).data.forEach(el=>{c.save();c.fillStyle=ds.pointBorderColor;c.font='11.5px '+FONT;c.textBaseline='middle';c.textAlign='left';
  c.fillText(ds.textLabel,el.x+6,el.y+0.5);c.restore();});});}};
const legendPlugin={id:'boxLegend',afterDraw(chart,args,opts){if(!opts||!opts.items)return;const a=chart.chartArea,c=chart.ctx;
  const x=opts.anchor[1]==='r'?a.right-opts.w:a.left, y=opts.anchor[0]==='b'?a.bottom-opts.h:a.top;
  c.save();c.fillStyle='#fff';c.fillRect(x,y,opts.w,opts.h);c.strokeStyle='#000';c.lineWidth=1.4;c.strokeRect(x,y,opts.w,opts.h);
  opts.items.forEach((lab,k)=>{const ds=chart.data.datasets.find(d=>d.label===lab);const cy=y+opts.first+k*opts.step;
    c.fillStyle=ds.pointBackgroundColor;c.strokeStyle=ds.pointBorderColor;c.lineWidth=ds.pointBorderWidth;
    Chart.helpers.drawPoint(c,{pointStyle:ds.pointStyle,radius:ds.pointRadius,rotation:0,borderWidth:ds.pointBorderWidth},x+opts.mx,cy);
    c.fillStyle='#000';c.font='11.5px '+FONT;c.textBaseline='middle';c.textAlign='left';c.fillText(lab,x+opts.tx,cy+0.5);});
  c.restore();}};
// axis titles whose text is fitted to the reference width (condensed text)
const fitTitlePlugin={id:'fitTitles',afterDraw(chart,args,o){if(!o||(!o.xText&&!o.yText))return;const a=chart.chartArea,c=chart.ctx;c.save();c.fillStyle='#000';
  c.textAlign='center';c.textBaseline='middle';
  if(o.xText){c.font=o.xSize+'px '+FONT;c.fillText(o.xText,(a.left+a.right)/2,o.xCy,o.xW);}
  if(o.yText){c.translate(o.yCx,(a.top+a.bottom)/2);c.rotate(-Math.PI/2);c.font=o.ySize+'px '+FONT;c.fillText(o.yText,0,0,o.yW);}
  c.restore();}};

const wrap=document.getElementById('wrap');
PANELS.forEach((p,idx)=>{
  const cv=document.createElement('canvas');cv.width=CW;cv.height=CH;cv.style.left=X0[p.col]+'px';cv.style.top=Y0[p.row]+'px';wrap.appendChild(cv);
  const b=p.box;
  const ds=[];
  p.series.forEach((s,k)=>{const st=STYLES[s.style];ds.push({label:s.label,data:toPts(s.data),pointStyle:st.pointStyle,pointRadius:st.radius,
    pointBorderWidth:s.bw||st.borderWidth,pointBorderColor:s.color,pointBackgroundColor:'rgba(0,0,0,0)',order:k,clip:0,textLabel:s.text?s.label:null});});
  const lo=Math.min(p.xRange[0],p.yRange[0]),hi=Math.max(p.xRange[1],p.yRange[1]);
  ds.push({label:'y = x',data:[{x:lo,y:lo},{x:hi,y:hi}],showLine:true,borderColor:'#000',borderWidth:2,borderDash:[5,3.5],pointRadius:0,order:50,clip:0});
  ds.push({label:'Other',data:toPts(p.rings),pointStyle:'circle',pointRadius:2.6,pointBorderWidth:1,pointBorderColor:GRAY,pointBackgroundColor:'rgba(0,0,0,0)',order:90,clip:0});
  ds.push({label:'Other (dense)',data:rowsToPts(p.core),pointStyle:'circle',pointRadius:p.coreR,pointBorderWidth:0,pointBorderColor:GRAY,pointBackgroundColor:GRAY,order:100,clip:0});
  const tickPadY=b.L-p.yLabX-5-6.3;
  const fit={xText:p.xFitW?X_TITLES[idx]:null,xSize:p.xs,xW:p.xFitW,xCy:ROW_XTITLE_C[p.row],
             yText:p.yFitW?Y_TITLES[idx]:null,ySize:p.ys,yW:p.yFitW,yCx:17};
  new Chart(cv.getContext('2d'),{
    type:'scatter',
    data:{datasets:ds},
    options:{
      responsive:false,animation:false,events:[],
      layout:{autoPadding:false,padding:{left:0,right:CW-b.R,top:0,bottom:0}},
      plugins:{legend:{display:false},tooltip:{enabled:false},
        title:{display:true,text:TITLES[idx],fullSize:false,color:'#000',font:{family:FONT,size:12.5,weight:'bold',lineHeight:1.2},
          padding:{top:ROW_TITLE_PAD[p.row],bottom:b.T-ROW_TITLE_PAD[p.row]-15}},
        boxLegend:p.legend||{}, fitTitles:fit},
      scales:{
        x:{type:'linear',position:'bottom',min:p.xRange[0],max:p.xRange[1],
          afterBuildTicks:s=>{s.ticks=p.xTicks.map(v=>({value:v}));},
          afterFit:s=>{s.height=CH-b.B;},
          grid:{display:true,drawOnChartArea:false,drawTicks:true,tickLength:5,color:'#000',tickColor:'#000',tickWidth:1},
          border:{display:false},
          ticks:{autoSkip:false,maxRotation:0,minRotation:0,padding:8,color:'#000',font:{family:FONT,size:11},callback:fmt},
          title:{display:!p.xFitW,text:X_TITLES[idx],color:'#000',font:{family:FONT,size:p.xs,lineHeight:1.2},padding:{top:0,bottom:CH-ROW_XTITLE_C[p.row]-p.xs*0.6}}},
        y:{type:'linear',position:'left',min:p.yRange[0],max:p.yRange[1],
          afterBuildTicks:s=>{s.ticks=p.yTicks.map(v=>({value:v}));},
          afterFit:s=>{s.width=b.L;},
          grid:{display:true,drawOnChartArea:false,drawTicks:true,tickLength:5,color:'#000',tickColor:'#000',tickWidth:1},
          border:{display:false},
          ticks:{autoSkip:false,minRotation:90,maxRotation:90,crossAlign:'center',padding:tickPadY,color:'#000',font:{family:FONT,size:11},callback:fmt},
          title:{display:!p.yFitW,text:Y_TITLES[idx],color:'#000',font:{family:FONT,size:p.ys,lineHeight:1.2},padding:{top:17-p.ys*0.6,bottom:0}}}
      }
    },
    plugins:[framePlugin,textPlugin,legendPlugin,fitTitlePlugin]
  });
});
</script></body></html>
